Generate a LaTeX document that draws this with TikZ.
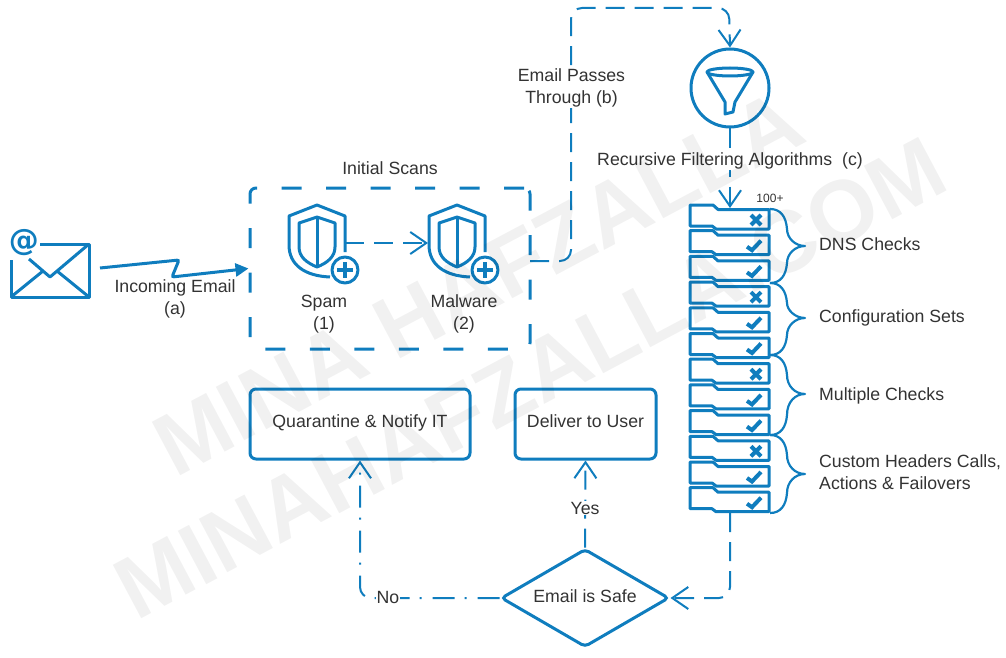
\documentclass[tikz,border=0pt]{standalone}
\usepackage{fontspec}
\setmainfont{Liberation Sans}
\newfontfamily\atfont{DejaVu Sans}
\usetikzlibrary{arrows.meta,shapes.geometric}
\definecolor{mailblue}{HTML}{0F7DBE}
\definecolor{labelgrey}{HTML}{333333}
\newcommand{\checkbrace}[3]{%
	\draw[iconline,line width=2.2pt] (770,#1) .. controls (781,#1) and (786,#1+8) .. (787,#1+20)
		.. controls (787,#2-8) and (795,#2) .. (805,#2)
		.. controls (795,#2) and (787,#2+8) .. (787,#3-20)
		.. controls (786,#3-8) and (781,#3) .. (770,#3);}
\tikzset{
	iconline/.style = {draw=mailblue, line width=3pt, line join=round},
	boxnode/.style = {draw=mailblue, line width=3pt, rounded corners=6pt, inner sep=0pt, text=labelgrey, font=\fontsize{17.7}{21.5}\selectfont},
	textnode/.style = {inner sep=1pt, text=labelgrey, align=center, font=\fontsize{17.7}{21.5}\selectfont},
	maskednode/.style = {textnode, fill=white},
	dashline/.style = {draw=mailblue, line width=2pt, rounded corners=11pt, dash pattern=on 19pt off 10pt, -{Straight Barb[length=16pt,width=22pt,line width=2pt]}},
	dotline/.style = {dashline, dash pattern=on 22pt off 11pt on 2pt off 10pt},
	markline/.style = {draw=mailblue, line width=4pt},
	watermark/.style = {text=black, opacity=0.055, rotate=28, font=\fontsize{88}{88}\selectfont\bfseries},
	pics/shieldplus/.style = {code = {
		\draw[iconline] (28,9) -- (28,-27) -- (0,-38) -- (-28,-27) -- (-28,2) .. controls (-28,22) and (-12,33) .. (13,34);
		\draw[iconline] (0,-26) -- (-18,-20) -- (-18,4) .. controls (-18,14) and (-10,20) .. (0,24) .. controls (10,20) and (18,14) .. (18,4) -- (18,-20) -- cycle;
		\draw[iconline] (0,-26) -- (0,24);
		\draw[iconline] (28,27) circle [radius=13];
		\draw[iconline,line width=3.5pt] (20,27) -- (36,27) (28,19) -- (28,35);
		\coordinate (-east) at (28,0);
		\coordinate (-west) at (-29,0);
	}},
	pics/tabbox/.style = {code = {
		\draw[iconline] (0,0) -- (23,0) -- (28,4.5) -- (79,4.5) -- (79,24) -- (26,24) -- (22,21) -- (0,21) -- cycle;
	}},
	pics/tabcross/.style = {code = {
		\pic {tabbox};
		\draw[markline] (61,10) -- (71,20) (71,10) -- (61,20);
	}},
	pics/tabcheck/.style = {code = {
		\pic {tabbox};
		\draw[markline] (57,16) -- (62,19.5) -- (71,10);
	}},
}

\begin{document}
\begin{tikzpicture}[x=1pt,y=-1pt]
	\useasboundingbox (0,0) rectangle (1006,658);
	% mail icon
	\draw[iconline] (40,244) -- (89,244) -- (89,297) -- (11,297) -- (11,260);
	\draw[iconline] (89,244) -- (50,277) -- (29,259);
	\draw[iconline] (11,297) -- (43,271) (89,297) -- (57,271);
	\node[text=mailblue, inner sep=0pt, font=\fontsize{30}{30}\atfont\bfseries] (mailat) at (24,243) {@};
	\coordinate (mailout) at (100,268);
	% first scans
	\node[boxnode, dash pattern=on 20pt off 24.5pt, minimum width=280pt, minimum height=161pt] (scans) at (390,268.5) {};
	\pic (spam) at (317,243) {shieldplus};
	\pic (malware) at (457,243) {shieldplus};
	\draw[dashline] (spam-east) -- (malware-west);
	\node[textnode] (scanslabel) at (390,168) {Initial Scans};
	\node[textnode] (spamlabel) at (324,314) {Spam\\(1)};
	\node[textnode] (malwarelabel) at (464,314) {Malware\\(2)};
	\draw[draw=mailblue, line width=3pt, rounded corners=2pt, -{Triangle[length=13pt,width=13pt]}] (mailout) -- (179,260) -- (172,277) -- (scans.west);
	\node[textnode] (incoming) at (175,299) {Incoming Email\\(a)};
	% funnel
	\node[draw=mailblue, line width=3pt, circle, minimum size=78pt, inner sep=0pt] (funnel) at (730,88) {};
	\draw[iconline] (730,72) ellipse [x radius=23, y radius=4];
	\draw[iconline] (707,72) -- (725,102) -- (725,114) -- (733,112) -- (735,102) -- (753,72);
	\coordinate (scansout) at (530,261);
	\draw[dashline] (scansout) -- (571,261) -- (571,8) -- (729,8) -- (funnel.north);
	\node[maskednode] (passes) at (571.5,88) {Email Passes\\Through (b)};
	% filter stack
	\foreach \tabname [count=\i from 0] in {tabcross,tabcheck,tabcheck,tabcross,tabcheck,tabcheck,tabcross,tabcheck,tabcheck,tabcross,tabcheck,tabcheck}
		\pic at (690,205+\i*25.7) {\tabname};
	\coordinate (stacktop) at (730,208);
	\coordinate (stackbottom) at (730,513);
	\draw[dashline] (funnel.south) -- (stacktop);
	\node[maskednode] (recursive) at (730,161) {Recursive Filtering Algorithms~~(c)};
	\node[textnode, font=\fontsize{12}{14}\selectfont] (hundred) at (770,198) {100+};
	\checkbrace{209}{246}{283}
	\checkbrace{283}{318}{355}
	\checkbrace{355}{394}{435}
	\checkbrace{435}{474}{513}
	\node[textnode, anchor=west] (dns) at (818,244) {DNS Checks};
	\node[textnode, anchor=west] (config) at (818,318) {Configuration Sets};
	\node[textnode, anchor=west] (multiple) at (818,396) {Multiple Checks};
	\node[textnode, anchor=west, align=left] (custom) at (818,472) {Custom Headers Calls,\\Actions \& Failovers};
	% outcome
	\node[boxnode, text height=12.5pt, text depth=5.5pt, minimum width=220pt, minimum height=70pt] (quarantine) at (360,424) {Quarantine \& Notify IT};
	\node[boxnode, text height=12.5pt, text depth=5.5pt, minimum width=141pt, minimum height=70pt] (deliver) at (585.5,424) {Deliver to User};
	\node[boxnode, diamond, rounded corners=4pt, aspect=1.7, text height=12.5pt, text depth=4.5pt, minimum width=168pt, minimum height=98pt] (safe) at (585,598) {Email is Safe};
	\draw[dashline] (stackbottom) -- (730,598) -- (safe.east);
	\draw[dashline] (safe.north) -- (deliver.south);
	\draw[dotline] (safe.west) -- (360,598) -- (quarantine.south);
	\node[maskednode] (yes) at (585,508) {Yes};
	\node[maskednode] (no) at (388,597) {No};
	% watermark
	\node[watermark] (markone) at (478,283) {MINA HAFZALLA};
	\node[watermark] (marktwo) at (530,378) {MINAHAFZALLA.COM};
\end{tikzpicture}
\end{document}
